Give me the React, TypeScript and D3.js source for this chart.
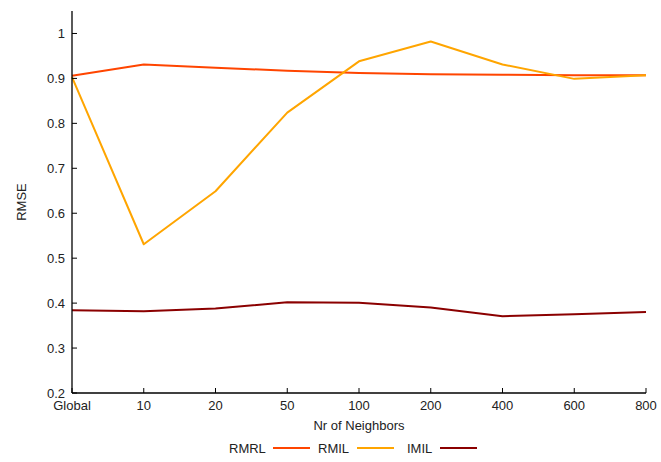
import * as d3 from "d3"

const categories = ["Global", "10", "20", "50", "100", "200", "400", "600", "800"]
const rmrl = [0.906, 0.931, 0.924, 0.917, 0.912, 0.909, 0.908, 0.907, 0.907]
const rmil = [0.903, 0.531, 0.649, 0.824, 0.938, 0.982, 0.931, 0.899, 0.907]
const imil = [0.384, 0.382, 0.388, 0.402, 0.401, 0.39, 0.371, 0.375, 0.38]
const yTicks = [0.2, 0.3, 0.4, 0.5, 0.6, 0.7, 0.8, 0.9, 1]

const series = [
  { id: "RMRL", values: rmrl, color: "#ff4500" },
  { id: "RMIL", values: rmil, color: "#ffa500" },
  { id: "IMIL", values: imil, color: "#8b0000" },
]

const W = 661
const H = 462
const m = { left: 72, right: 15, top: 11, bottom: 69 }
const font = "'Liberation Sans', Arial, sans-serif"

export default function App() {
  const x = d3
    .scalePoint()
    .domain(categories)
    .range([m.left, W - m.right])

  const y = d3
    .scaleLinear()
    .domain([0.2, 1.05])
    .range([H - m.bottom, m.top])

  const line = (vals: number[]) =>
    d3
      .line<number>()
      .x((_, i) => x(categories[i]) ?? 0)
      .y((v) => y(v))(vals) ?? ""

  const legendItems = [
    { text: 229, line: 273 },
    { text: 318, line: 357 },
    { text: 407, line: 440 },
  ]

  return (
    <svg
      width={W}
      height={H}
      style={{ position: "absolute", left: 0, top: 0, background: "#fff" }}
      fontFamily={font}
      fontSize={13}
    >
      {series.map((s) => (
        <path
          key={s.id}
          d={line(s.values)}
          fill="none"
          stroke={s.color}
          strokeWidth={2}
          strokeLinejoin="round"
        />
      ))}

      {/* axes */}
      <line x1={m.left} x2={m.left} y1={m.top} y2={y(0.2)} stroke="#000" strokeWidth={1.3} />
      <line x1={m.left} x2={W - m.right} y1={y(0.2)} y2={y(0.2)} stroke="#000" strokeWidth={1.3} />

      {yTicks.map((t) => (
        <g key={t}>
          <line x1={m.left} x2={m.left + 5} y1={y(t)} y2={y(t)} stroke="#000" />
          <text x={m.left - 7} y={y(t)} dy="0.35em" textAnchor="end" fill="#222">
            {t}
          </text>
        </g>
      ))}

      {categories.map((c) => (
        <g key={c}>
          <line x1={x(c)} x2={x(c)} y1={y(0.2)} y2={y(0.2) - 5} stroke="#000" />
          <text x={x(c)} y={y(0.2) + 17} textAnchor="middle" fill="#222">
            {c}
          </text>
        </g>
      ))}

      <text x={(m.left + W - m.right) / 2} y={430} textAnchor="middle" fill="#222">
        Nr of Neighbors
      </text>
      <text
        transform={`translate(26, ${(m.top + y(0.2)) / 2}) rotate(-90)`}
        textAnchor="middle"
        fill="#222"
      >
        RMSE
      </text>

      {series.map((s, i) => (
        <g key={s.id}>
          <text x={legendItems[i].text} y={453} fill="#222">
            {s.id}
          </text>
          <line
            x1={legendItems[i].line}
            x2={legendItems[i].line + 37}
            y1={448}
            y2={448}
            stroke={s.color}
            strokeWidth={2}
          />
        </g>
      ))}
    </svg>
  )
}
